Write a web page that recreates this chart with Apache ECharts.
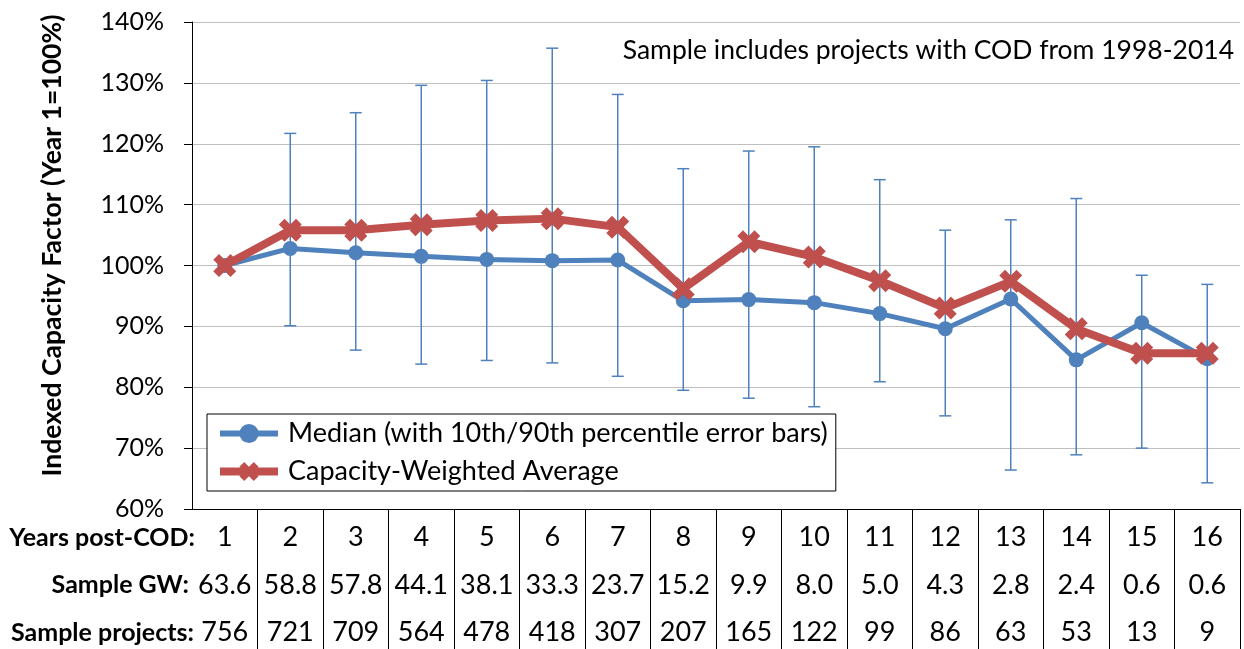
<!DOCTYPE html>
<html>
<head>
<meta charset="utf-8">
<title>Indexed Capacity Factor by Years post-COD</title>
<script src="https://cdn.jsdelivr.net/npm/echarts@6/dist/echarts.min.js"></script>
<style>
  html, body { margin: 0; padding: 0; background: #ffffff; overflow: hidden; }
  #chart { width: 1244px; height: 649px; }
</style>
</head>
<body>
<div id="chart"></div>
<script>
// Years since commercial operation date (COD)
const years = ['1', '2', '3', '4', '5', '6', '7', '8', '9', '10', '11', '12', '13', '14', '15', '16'];
// Sample capacity (GW) and project counts behind each year
const sampleGW = ['63.6', '58.8', '57.8', '44.1', '38.1', '33.3', '23.7', '15.2', '9.9', '8.0', '5.0', '4.3', '2.8', '2.4', '0.6', '0.6'];
const sampleProjects = ['756', '721', '709', '564', '478', '418', '307', '207', '165', '122', '99', '86', '63', '53', '13', '9'];

// Indexed capacity factor, percent of year 1
const median = [100, 102.8, 102.1, 101.5, 101.0, 100.8, 100.9, 94.2, 94.4, 93.9, 92.1, 89.6, 94.5, 84.5, 90.6, 84.7];
const weightedAvg = [100, 105.8, 105.8, 106.7, 107.4, 107.7, 106.3, 96.2, 103.9, 101.4, 97.5, 93.0, 97.4, 89.6, 85.6, 85.6];
// 10th / 90th percentile error bars around the median
const p10 = [null, 90.1, 86.1, 83.8, 84.4, 84.0, 81.8, 79.5, 78.2, 76.8, 80.9, 75.3, 66.4, 68.9, 70.0, 64.3];
const p90 = [null, 121.7, 125.1, 129.6, 130.4, 135.7, 128.1, 115.9, 118.8, 119.5, 114.1, 105.8, 107.5, 111.0, 98.4, 96.9];

const yTicks = { min: 60, max: 140, step: 10 };

const rowLabels = ['Years post-COD:', 'Sample GW:', 'Sample projects:'];
const rowLabelRight = [195, 189, 194];

const FONT = 'Lato, "Noto Sans", sans-serif';
const BLUE = '#4F81BD';
const RED = '#C0504D';
const CROSS = 'path://M0 6 L6 0 L12 6 L18 0 L24 6 L18 12 L24 18 L18 24 L12 18 L6 24 L0 18 L6 12 Z';

const errorData = [];
years.forEach((y, i) => {
  if (p10[i] != null && p90[i] != null) errorData.push([i, p10[i], p90[i]]);
});

const chart = echarts.init(document.getElementById('chart'), null, { renderer: 'canvas' });

const ROW_H = 47.5;
const AXIS_Y = 509;
const LABEL_MARGIN = 5;

chart.setOption({
  animation: false,
  backgroundColor: '#ffffff',
  textStyle: { fontFamily: FONT, color: '#000' },
  grid: {
    left: 192, right: 4, top: 22, bottom: 649 - AXIS_Y,
    containLabel: false,
    outerBoundsMode: 'none'
  },
  title: {
    text: 'Sample includes projects with COD from 1998-2014',
    right: 5,
    top: 32,
    textStyle: { fontFamily: FONT, fontSize: 26.5, fontWeight: 'normal', color: '#000' }
  },
  legend: {
    orient: 'vertical',
    left: 207,
    top: 414,
    data: [
      { name: 'Median (with 10th/90th percentile error bars)', lineStyle: { width: 6 } },
      { name: 'Capacity-Weighted Average', lineStyle: { width: 8 } }
    ],
    itemWidth: 58,
    itemHeight: 24,
    itemGap: 11,
    padding: [6, 8, 6, 9],
    borderColor: '#000',
    borderWidth: 1,
    backgroundColor: '#fff',
    textStyle: { fontFamily: FONT, fontSize: 27, color: '#000', padding: [0, 0, 0, 5] }
  },
  xAxis: {
    type: 'category',
    data: years,
    boundaryGap: true,
    axisLine: { lineStyle: { color: '#000', width: 1 } },
    axisTick: {
      show: true,
      length: 140,
      interval: (idx) => idx !== 0,
      lineStyle: { color: '#000', width: 1 }
    },
    axisLabel: {
      interval: 0,
      margin: LABEL_MARGIN,
      fontFamily: FONT,
      fontSize: 27,
      color: '#000',
      lineHeight: ROW_H,
      formatter: (v, i) => `${years[i]}\n${sampleGW[i]}\n${sampleProjects[i]}`
    },
    splitLine: { show: false }
  },
  yAxis: {
    type: 'value',
    min: yTicks.min,
    max: yTicks.max,
    interval: yTicks.step,
    name: 'Indexed Capacity Factor (Year 1=100%)',
    nameLocation: 'middle',
    nameGap: 126,
    nameTextStyle: {
      fontFamily: FONT, fontSize: 26.5, fontWeight: 'bold', color: '#000',
      padding: [0, 0, 0, 40]
    },
    axisLine: { show: true, lineStyle: { color: '#000', width: 1 } },
    axisTick: { show: true, length: 8, lineStyle: { color: '#000' } },
    axisLabel: { margin: 28, fontFamily: FONT, fontSize: 25, color: '#000', formatter: '{value}%' },
    splitLine: { lineStyle: { color: '#BFBFBF', width: 1 } }
  },
  graphic: rowLabels.map((t, i) => ({
    type: 'text',
    x: rowLabelRight[i],
    y: AXIS_Y + LABEL_MARGIN + (i + 0.5) * ROW_H,
    style: {
      text: t,
      font: `bold 25px ${FONT}`,
      fill: '#000',
      textAlign: 'right',
      textVerticalAlign: 'middle'
    }
  })),
  series: [
    {
      name: 'P10-P90',
      type: 'custom',
      z: 1,
      data: errorData,
      encode: { x: 0, y: [1, 2] },
      renderItem: (params, api) => {
        const lo = api.coord([api.value(0), api.value(1)]);
        const hi = api.coord([api.value(0), api.value(2)]);
        const half = 6;
        const style = { stroke: BLUE, lineWidth: 1.5 };
        return {
          type: 'group',
          children: [
            { type: 'line', shape: { x1: lo[0], y1: hi[1], x2: lo[0], y2: lo[1] }, style },
            { type: 'line', shape: { x1: lo[0] - half, y1: hi[1], x2: lo[0] + half, y2: hi[1] }, style },
            { type: 'line', shape: { x1: lo[0] - half, y1: lo[1], x2: lo[0] + half, y2: lo[1] }, style }
          ]
        };
      }
    },
    {
      name: 'Median (with 10th/90th percentile error bars)',
      type: 'line',
      z: 3,
      data: median,
      symbol: 'circle',
      symbolSize: 15,
      lineStyle: { color: BLUE, width: 5 },
      itemStyle: { color: BLUE }
    },
    {
      name: 'Capacity-Weighted Average',
      type: 'line',
      z: 4,
      data: weightedAvg,
      symbol: CROSS,
      symbolSize: 23,
      lineStyle: { color: RED, width: 8 },
      itemStyle: { color: RED }
    }
  ]
});
</script>
</body>
</html>
